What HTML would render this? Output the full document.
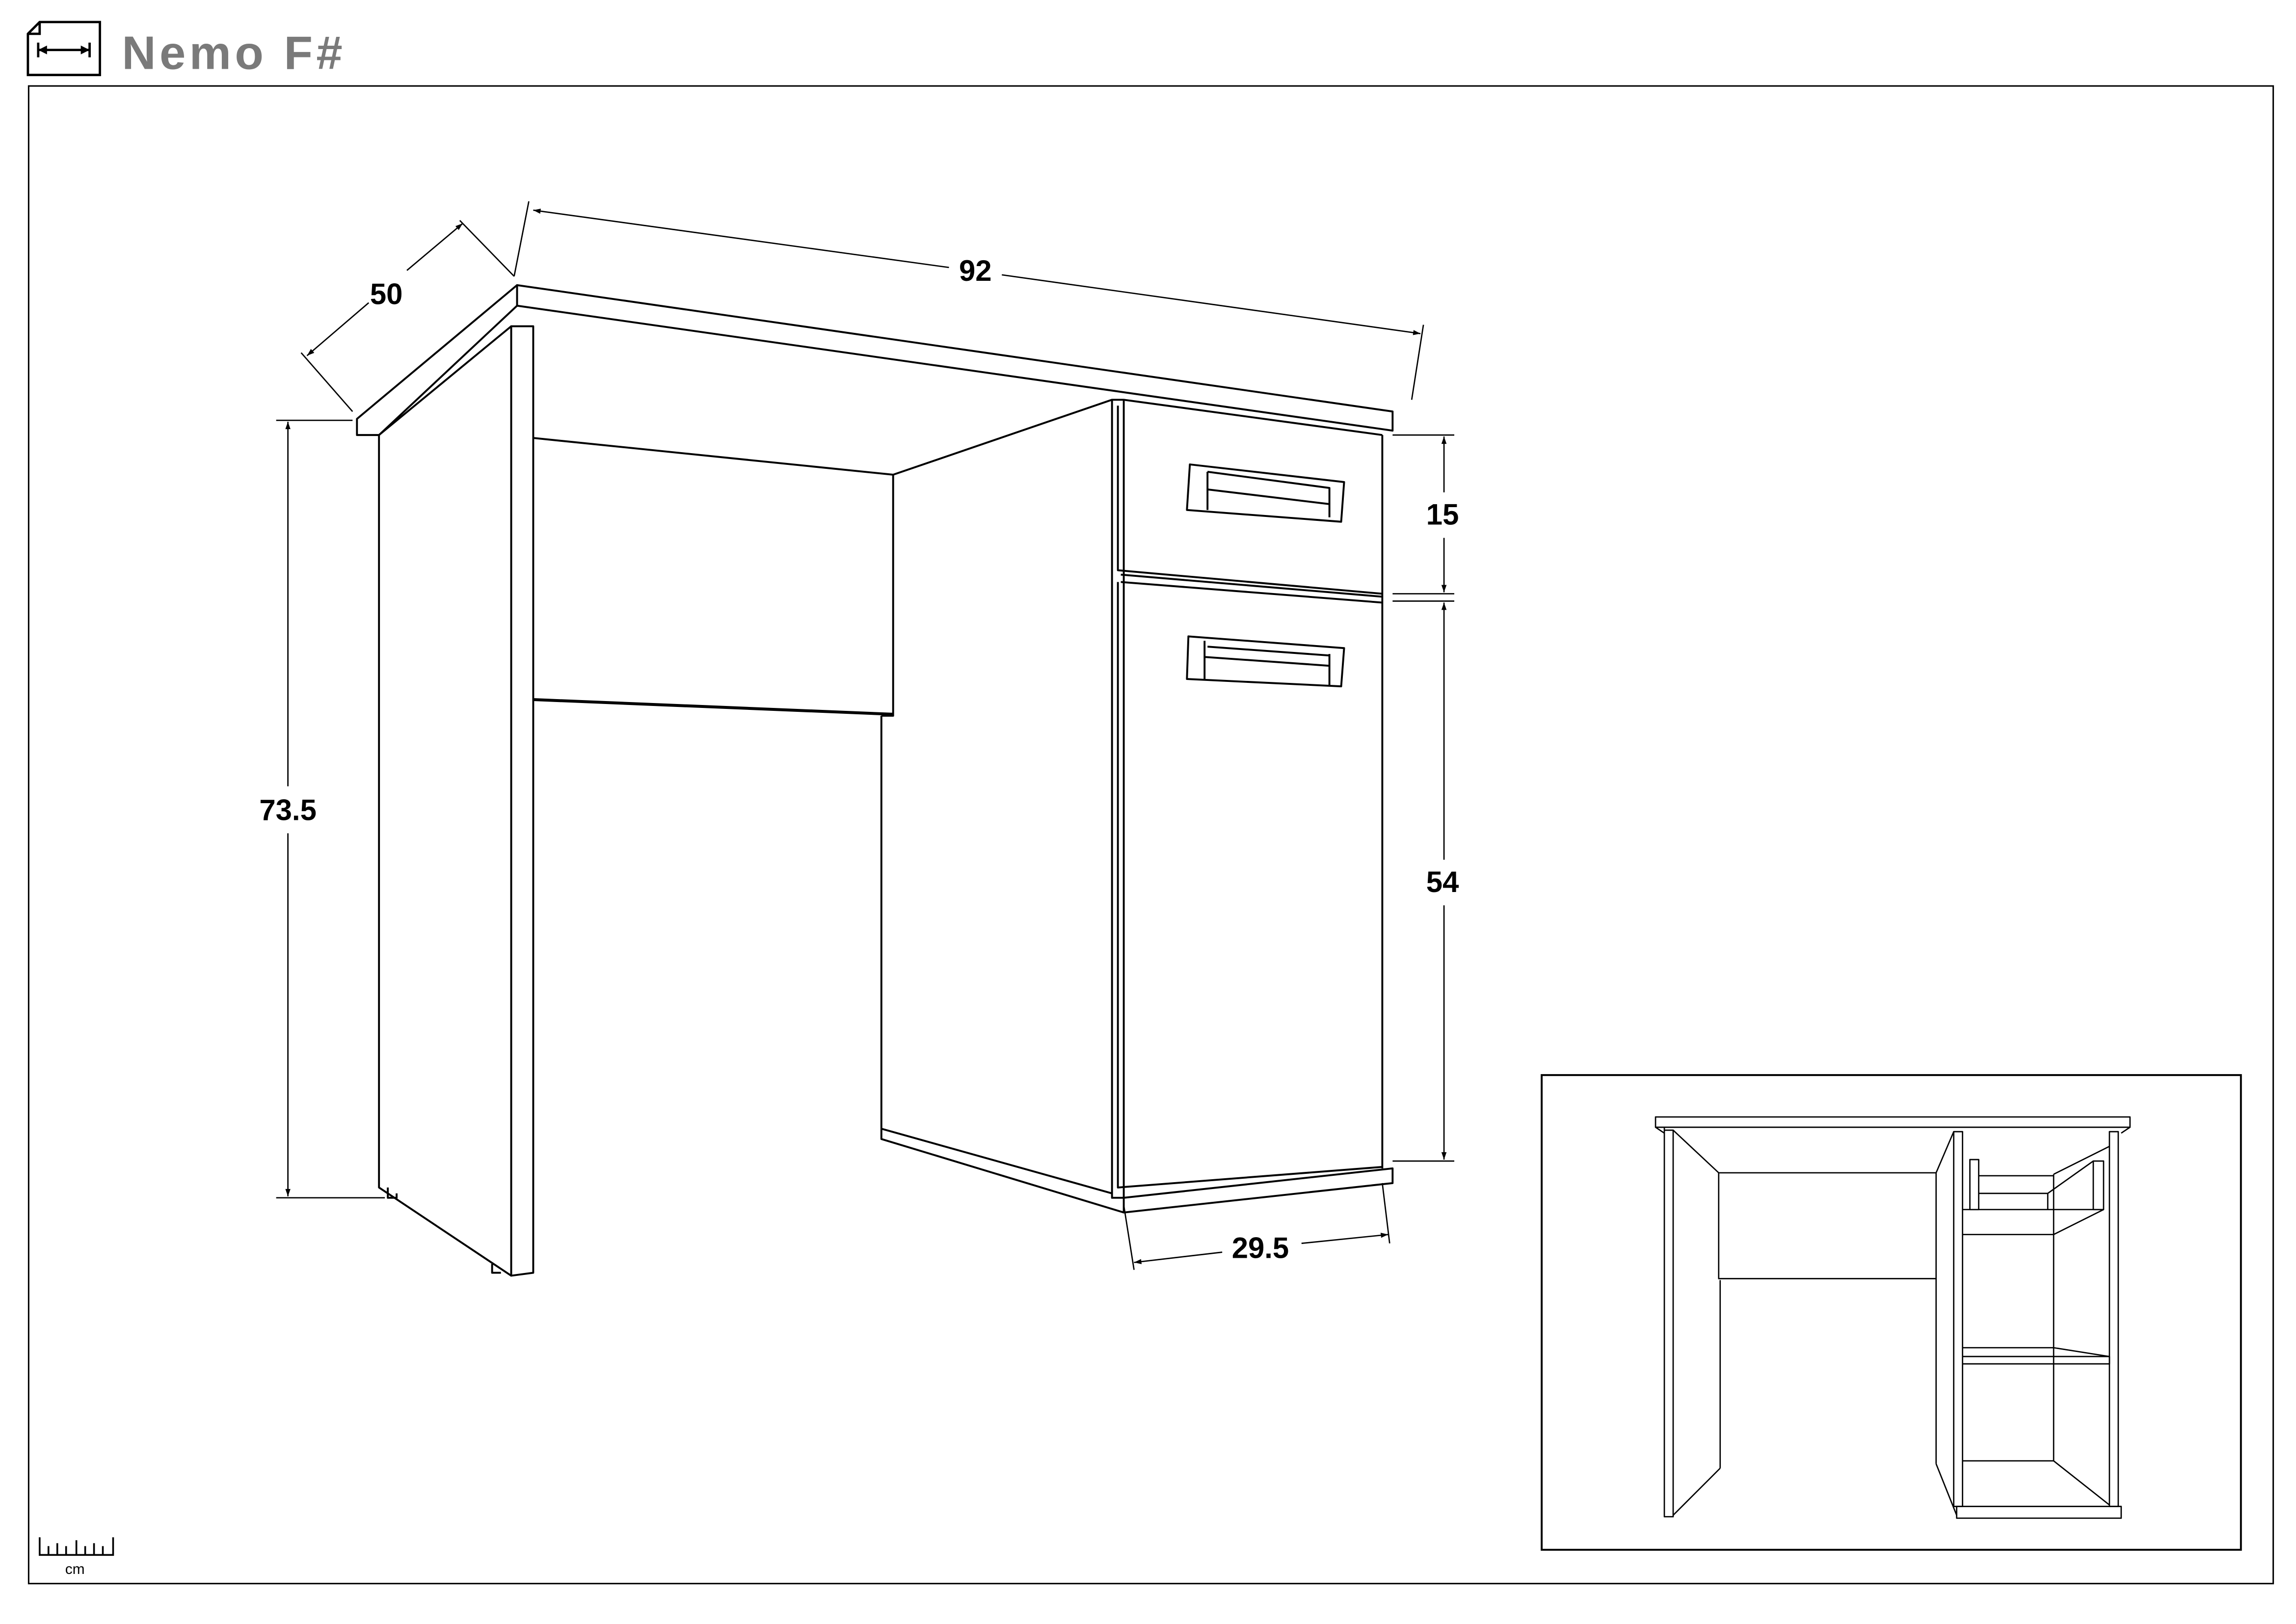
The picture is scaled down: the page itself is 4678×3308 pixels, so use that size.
<!DOCTYPE html>
<html><head><meta charset="utf-8"><style>
html,body{margin:0;padding:0;background:#fff;}
svg{display:block;}
text{font-family:"Liberation Sans",sans-serif;font-weight:bold;}
</style></head><body>
<svg width="4678" height="3308" viewBox="0 0 1563 1105" preserveAspectRatio="none" xmlns="http://www.w3.org/2000/svg">
<defs>
<marker id="a" viewBox="0 0 10 10" refX="10" refY="5" markerWidth="7" markerHeight="5" orient="auto-start-reverse" markerUnits="userSpaceOnUse"><path d="M0,1.5 L10,5 L0,8.5 z" fill="#000"/></marker>
</defs>
<rect width="1563" height="1105" fill="#fff"/>
<!-- header -->
<g fill="none" stroke="#000" stroke-width="1.6">
<path d="M27,15 L68,15 L68,51 L19,51 L19,23 Z M19,23 L27,23 L27,15"/>
<line x1="26" y1="34" x2="61" y2="34"/>
<line x1="26" y1="29" x2="26" y2="39"/><line x1="61" y1="29" x2="61" y2="39"/>
</g>
<path d="M26,34 l6,-3 v6z M61,34 l-6,-3 v6z" fill="#000"/>
<text x="83" y="47" font-size="32" fill="#7a7a7a" letter-spacing="2.5">Nemo  F#</text>
<!-- frame -->
<rect x="19.5" y="58.5" width="1528" height="1019" fill="none" stroke="#000" stroke-width="1"/>

<!-- main desk -->
<g fill="none" stroke="#000" stroke-width="1.3" stroke-linejoin="round">
<path d="M352,194 L948,280 L948,293 L352,208 Z"/>
<path d="M352,194 L243,285 L243,296 L258,296 L352,208"/>
<line x1="348" y1="222" x2="258" y2="296"/>
<path d="M348,222 L363,222 L363,866 L348,868 Z"/>
<path d="M258,296 L258,808 L348,868"/>
<path d="M264,808 L264,815 L270,815 L270,812"/>
<path d="M335,860 L335,866 L341,866"/>
<path d="M363,298 L608,323 L608,487 L600,487"/>
<path d="M363,476 L608,486" stroke-width="2"/>
<line x1="608" y1="323" x2="757" y2="272"/>
<line x1="600" y1="487" x2="600" y2="768"/>
<path d="M600,768 L757,812"/>
<path d="M600,768 L600,775 L765,825"/>
<path d="M757,272 L765,272 L765,815 L757,815 Z"/>
<line x1="765" y1="272" x2="941" y2="296"/>
<line x1="941" y1="296" x2="941" y2="795"/>
<path d="M761,276 L761,388 L941,404"/>
<path d="M763,391 L941,406"/>
<path d="M763,396 L941,410"/>
<path d="M761,396 L761,808 L941,794"/>
<path d="M765,815 L948,795 L948,805 L765,825 Z"/>
<path d="M810,316 L915,328 L913,355 L808,347 Z"/>
<path d="M822,321 L905,332 L905,352 M822,321 L822,347"/>
<path d="M822,333 L905,343"/>
<path d="M809,433 L915,441 L913,467 L808,462 Z"/>
<path d="M820,436 L820,463 M820,447 L905,453 L905,466 M905,445 L905,453"/>
<path d="M822,440 L905,446"/>
</g>

<!-- dimensions -->
<g fill="none" stroke="#000" stroke-width="0.9">
<line x1="313" y1="150" x2="350" y2="188"/>
<line x1="205" y1="240" x2="240" y2="280"/>
<line x1="251" y1="206" x2="209" y2="242" marker-end="url(#a)"/>
<line x1="277" y1="184" x2="315" y2="152" marker-end="url(#a)"/>
<line x1="360" y1="137" x2="350" y2="188"/>
<line x1="969" y1="221" x2="961" y2="272"/>
<line x1="646" y1="182" x2="363" y2="143" marker-end="url(#a)"/>
<line x1="682" y1="187" x2="967" y2="227" marker-end="url(#a)"/>
<line x1="188" y1="286" x2="240" y2="286"/>
<line x1="188" y1="815" x2="262" y2="815"/>
<line x1="196" y1="535" x2="196" y2="287" marker-end="url(#a)"/>
<line x1="196" y1="567" x2="196" y2="814" marker-end="url(#a)"/>
<line x1="948" y1="296" x2="990" y2="296"/>
<line x1="948" y1="404" x2="990" y2="404"/>
<line x1="948" y1="409" x2="990" y2="409"/>
<line x1="948" y1="790" x2="990" y2="790"/>
<line x1="983" y1="335" x2="983" y2="297" marker-end="url(#a)"/>
<line x1="983" y1="366" x2="983" y2="403" marker-end="url(#a)"/>
<line x1="983" y1="585" x2="983" y2="410" marker-end="url(#a)"/>
<line x1="983" y1="616" x2="983" y2="789" marker-end="url(#a)"/>
<line x1="765" y1="820" x2="772" y2="864"/>
<line x1="941" y1="805" x2="946" y2="846"/>
<line x1="832" y1="852" x2="772" y2="859" marker-end="url(#a)"/>
<line x1="886" y1="846" x2="945" y2="840" marker-end="url(#a)"/>
</g>
<g font-size="20" fill="#000" text-anchor="middle">
<text x="263" y="207">50</text>
<text x="664" y="191">92</text>
<text x="196" y="558">73.5</text>
<text x="982" y="357">15</text>
<text x="982" y="607">54</text>
<text x="858" y="856">29.5</text>
</g>

<!-- ruler -->
<g fill="none" stroke="#000" stroke-width="1.2">
<path d="M27,1046 L27,1058 L77,1058 L77,1046"/>
<path d="M33,1052 V1058 M39,1050 V1058 M45,1052 V1058 M52,1048 V1058 M58,1052 V1058 M64,1050 V1058 M70,1052 V1058"/>
</g>
<text x="51" y="1071" font-size="10" text-anchor="middle" style="font-weight:normal">cm</text>

<!-- inset -->
<rect x="1049.5" y="731.5" width="476" height="323" fill="none" stroke="#000" stroke-width="1.3"/>
<g fill="none" stroke="#000" stroke-width="0.9" stroke-linejoin="round">
<rect x="1127" y="760" width="323" height="7"/>
<path d="M1133,767 L1133,1032 L1139,1032 L1139,769 L1133,769"/>
<path d="M1127,767 L1133,771 M1450,767 L1444,771"/>
<line x1="1139" y1="769" x2="1170" y2="798"/>
<rect x="1170" y="798" width="148" height="72"/>
<line x1="1171" y1="871" x2="1171" y2="999"/>
<line x1="1139" y1="1031" x2="1171" y2="999"/>
<line x1="1318" y1="798" x2="1330" y2="770"/>
<path d="M1330,770 L1336,770 L1336,1025 L1330,1025 Z"/>
<line x1="1318" y1="870" x2="1318" y2="996"/>
<line x1="1318" y1="996" x2="1332" y2="1031"/>
<path d="M1436,770 L1442,770 L1442,1025 L1436,1025 Z"/>
<line x1="1436" y1="780" x2="1398" y2="799"/>
<line x1="1398" y1="799" x2="1398" y2="994"/>
<path d="M1341,789 L1347,789 L1347,823 L1341,823 Z"/>
<path d="M1425,790 L1432,790 L1432,823 L1425,823 Z"/>
<line x1="1347" y1="800" x2="1398" y2="800"/>
<line x1="1347" y1="812" x2="1394" y2="812"/>
<line x1="1425" y1="790" x2="1394" y2="812"/>
<line x1="1394" y1="812" x2="1394" y2="823"/>
<line x1="1336" y1="823" x2="1432" y2="823"/>
<line x1="1336" y1="840" x2="1398" y2="840"/>
<line x1="1432" y1="823" x2="1398" y2="840"/>
<path d="M1336,917 L1398,917 L1436,923 L1436,928 L1336,928"/>
<line x1="1336" y1="923" x2="1436" y2="923"/>
<line x1="1336" y1="994" x2="1398" y2="994"/>
<line x1="1398" y1="994" x2="1436" y2="1024"/>
<rect x="1332" y="1025" width="112" height="8"/>
</g>
</svg>
</body></html>
